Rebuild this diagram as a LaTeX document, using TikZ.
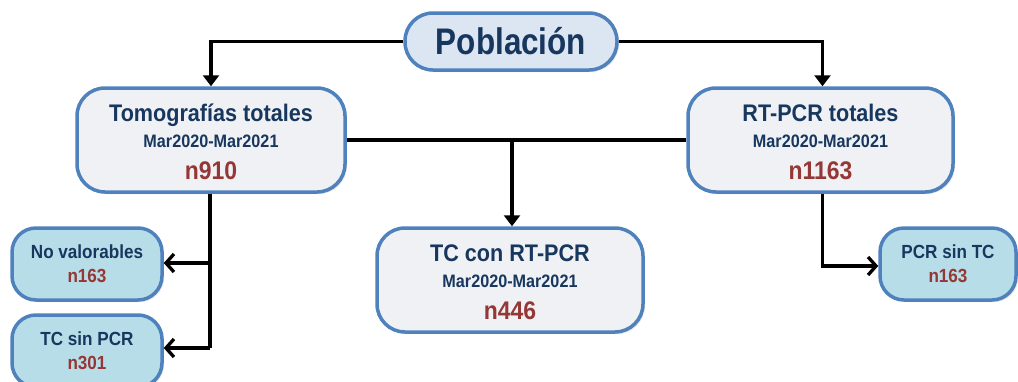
\documentclass[tikz,border=0pt]{standalone}
\usepackage{fontspec}
\setmainfont{Liberation Sans}[FakeStretch=0.9]
\newfontfamily\condfont{Liberation Sans}[FakeStretch=0.85]
\usetikzlibrary{arrows.meta,shadows}
\definecolor{navy}{HTML}{17375E}
\definecolor{nred}{HTML}{953735}
\definecolor{bord}{HTML}{4F81BD}
\definecolor{popfill}{HTML}{DCE6F2}
\definecolor{bigfill}{HTML}{F0F1F4}
\definecolor{smallfill}{HTML}{B7DEE8}
\tikzset{
  box/.style={draw=bord, line width=3.5pt, align=center, text=navy, font=\bfseries,
    inner sep=0pt, drop shadow={opacity=0.2, shadow xshift=2pt, shadow yshift=-2pt}},
  bigbox/.style={box, fill=bigfill, rounded corners=28pt, minimum height=104pt},
  smallbox/.style={box, fill=smallfill, rounded corners=24pt, minimum width=150pt, minimum height=72pt},
  popbox/.style={box, fill=popfill, rounded corners=28pt, minimum width=212pt, minimum height=57pt},
  conn/.style={line width=3.3pt, black},
  fillarr/.style={conn, -{Triangle[length=11pt,width=16pt]}},
  openarr/.style={conn, -{Straight Barb[length=8pt,width=18pt,line width=3.3pt]}},
}
\newcommand{\ttl}{\fontsize{24}{26}\selectfont\rule[-6pt]{0pt}{28pt}}
\newcommand{\dte}{\fontsize{18}{26}\selectfont\rule[-6pt]{0pt}{25pt}}
\newcommand{\nnum}{\fontsize{25.5}{32}\selectfont\color{nred}\rule{0pt}{25pt}}
\newcommand{\stl}{\fontsize{19}{24}\selectfont\rule[-5pt]{0pt}{10pt}}
\newcommand{\snum}{\fontsize{19}{24}\selectfont\color{nred}\rule{0pt}{18pt}}
\begin{document}
\begin{tikzpicture}[x=1pt,y=-1pt]
\path[use as bounding box] (0,0) rectangle (1018,381);
\clip (0,0) rectangle (1018,381);
\node[popbox] (pob) at (511,41.5) {\condfont\fontsize{37}{40}\selectfont Población};
\node[bigbox, minimum width=268pt] (tomo) at (211,140) {\ttl Tomografías totales\\\dte Mar2020-Mar2021\\\nnum n910};
\node[bigbox, minimum width=265pt] (rt) at (820.5,140) {\ttl RT-PCR totales\\\dte Mar2020-Mar2021\\\nnum n1163};
\node[bigbox, minimum width=266pt] (tc) at (510,280) {\ttl TC con RT-PCR\\\dte Mar2020-Mar2021\\\nnum n446};
\node[smallbox] (nv) at (87,264) {\stl No valorables\\\snum n163};
\node[smallbox] (tsp) at (87,351) {\stl TC sin PCR\\\snum n301};
\node[smallbox, minimum width=136pt] (pst) at (948,264) {\stl PCR sin TC\\\snum n163};
% connectors
\draw[fillarr] (pob.west) -| (tomo.north);
\draw[fillarr] (pob.east) -| ([xshift=2pt]rt.north);
\draw[conn] (tomo.east) -- (rt.west);
\coordinate (mid) at (512,140);
\draw[fillarr] (mid) -- (tc.north -| mid);
\coordinate (lb) at (210,348);
\draw[conn] (tomo.south -| lb) -- (lb);
\draw[openarr] (210,263) -- (nv.east |- 0,263);
\draw[openarr] (lb) -- (tsp.east |- lb);
\draw[openarr] ([xshift=2pt]rt.south) |- (pst.west |- 0,266);
\end{tikzpicture}
\end{document}
